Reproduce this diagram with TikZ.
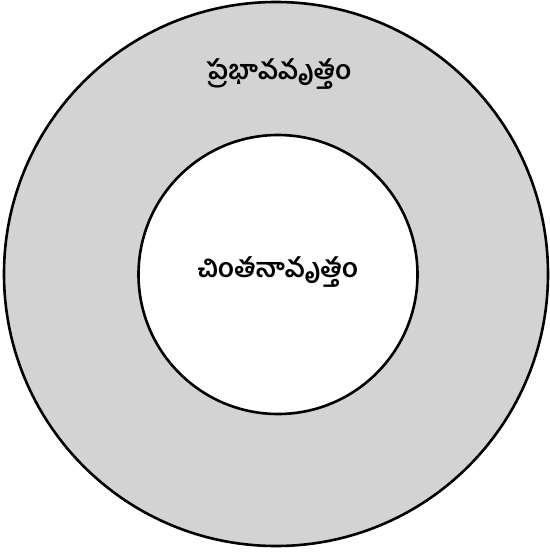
\documentclass[tikz,border=0pt]{standalone}
\usepackage{fontspec}
\newfontfamily\telugu[Script=Telugu]{Hind Guntur}
\definecolor{ringgray}{RGB}{211,211,211}
\begin{document}
\begin{tikzpicture}[x=1pt,y=-1pt]
		\useasboundingbox (0,0) rectangle (549,553);
		\draw[line width=2.6pt,fill=ringgray] (276,274) circle (272);
		\draw[line width=2.6pt,fill=white] (278,274.5) circle (139.5);
		\node[font=\telugu\bfseries\fontsize{26.5}{30}\selectfont] (prabhava) at (279,74) {ప్రభావవృత్తం};
		\node[font=\telugu\bfseries\fontsize{26.5}{30}\selectfont] (chintana) at (278,272) {చింతనావృత్తం};
	\end{tikzpicture}
\end{document}
